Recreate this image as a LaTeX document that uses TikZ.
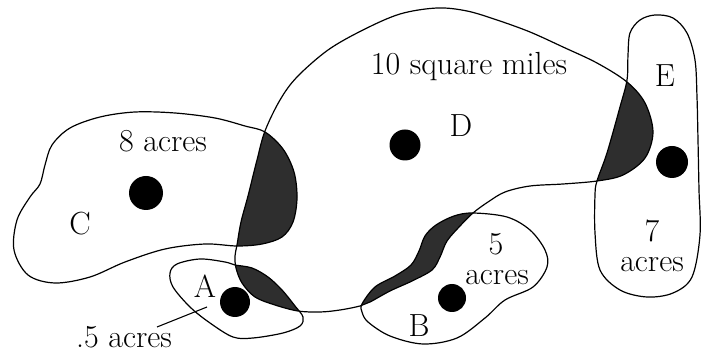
\documentclass[tikz,border=0pt]{standalone}
\begin{document}
\begin{tikzpicture}[x=1pt,y=-1pt,
  region/.style={line width=1.2pt},
  lens/.style={fill=black!82},
  dot/.style={circle,fill=black,inner sep=0pt},
  lbl/.style={font=\fontsize{32}{36}\selectfont,anchor=base,inner sep=0pt},
  pointer/.style={line width=1.1pt}]
\useasboundingbox (0,0) rectangle (702,355);
\def\pathD{plot[smooth cycle,tension=0.55] coordinates {(265,131) (280,100) (297,77) (328,50) (363,30) (400,14) (437,8) (467,11) (497,20) (530,32) (563,47) (597,63) (627,82) (645,103) (653,132) (645,158) (623,175) (597,181) (563,184) (530,186) (505,192) (488,202) (473,213) (460,226) (447,241) (440,257) (432,270) (412,281) (390,291) (370,302) (360,306) (340,310) (320,312) (298,311) (275,305) (255,297) (242,283) (236,268) (235,256) (237,245) (241,222) (248,196) (257,160)}}
\def\pathC{plot[smooth cycle,tension=0.55] coordinates {(45,165) (52,145) (70,128) (100,117) (135,112) (175,113) (215,118) (245,126) (265,132) (283,149) (294,172) (297,198) (293,222) (282,237) (262,244) (237,246) (205,244) (165,249) (125,262) (90,277) (55,283) (28,275) (14,250) (17,220) (30,197) (40,184)}}
\def\pathA{plot[smooth cycle,tension=0.55] coordinates {(170,273) (177,264) (200,259) (225,262) (235,265) (252,268) (268,277) (282,290) (295,306) (303,317) (300,326) (283,333) (253,338) (233,337) (210,323) (190,307) (173,287)}}
\def\pathB{plot[smooth cycle,tension=0.55] coordinates {(362,304) (375,287) (395,276) (411,265) (419,251) (425,236) (436,225) (454,216) (473,213) (507,217) (530,230) (545,250) (547,267) (533,287) (505,300) (485,318) (457,338) (423,344) (390,336) (368,322) (362,312)}}
\def\pathE{plot[smooth cycle,tension=0.55] coordinates {(630,33) (640,20) (655,15) (673,18) (687,33) (695,60) (697,97) (698,140) (699,190) (700,235) (692,277) (673,293) (647,297) (620,290) (600,270) (595,233) (595,195) (597,181) (607,153) (620,107) (627,80) (628,55)}}
\begin{scope}
  \clip \pathD;
  \fill[lens] \pathC;
  \fill[lens] \pathA;
  \fill[lens] \pathB;
  \fill[lens] \pathE;
\end{scope}
\draw[region] \pathD;
\draw[region] \pathC;
\draw[region] \pathA;
\draw[region] \pathB;
\draw[region] \pathE;
\node[dot,minimum size=34pt] (dotC) at (146,193) {};
\node[dot,minimum size=31pt] (dotD) at (405,145) {};
\node[dot,minimum size=30pt] (dotA) at (235,302) {};
\node[dot,minimum size=28pt] (dotB) at (452,298) {};
\node[dot,minimum size=32pt] (dotE) at (672,162) {};
\node[lbl] (tD) at (469,75) {10 square miles};
\node[lbl] (lD) at (461,137) {D};
\node[lbl] (tC) at (163,152) {8 acres};
\node[lbl] (lC) at (80,235) {C};
\node[lbl] (lA) at (205,298) {A};
\node[lbl] (tA) at (124,348) {.5 acres};
\node[lbl] (lB) at (419,337) {B};
\node[lbl] (tB1) at (496,255) {5};
\node[lbl] (tB2) at (497,285) {acres};
\node[lbl] (lE) at (665,87) {E};
\node[lbl] (tE1) at (652,242) {7};
\node[lbl] (tE2) at (652,272) {acres};
\coordinate (p1) at (157,327);
\coordinate (p2) at (207,307);
\draw[pointer] (p1) -- (p2);
\end{tikzpicture}
\end{document}
